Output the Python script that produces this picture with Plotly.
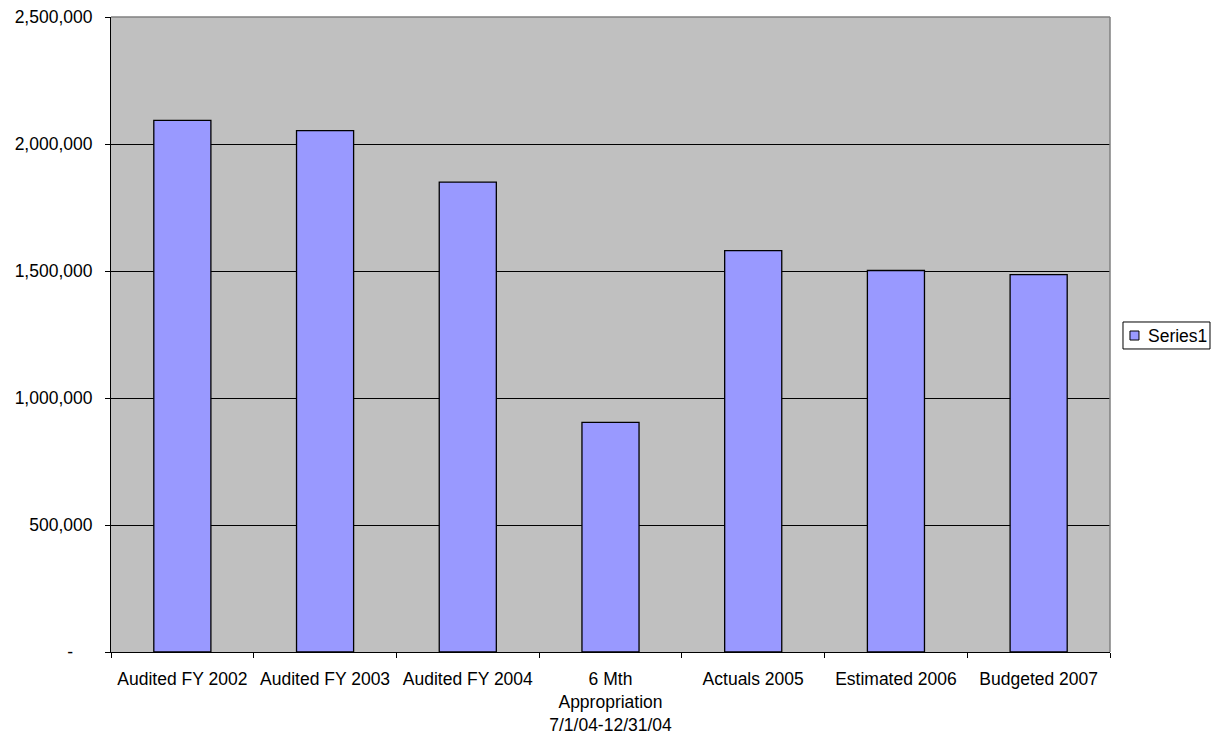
import plotly.graph_objects as go

categories = [
    "Audited FY 2002",
    "Audited FY 2003",
    "Audited FY 2004",
    "6 Mth<br>Appropriation<br>7/1/04-12/31/04",
    "Actuals 2005",
    "Estimated 2006",
    "Budgeted 2007",
]
values = [2093000, 2053000, 1850000, 904000, 1580000, 1502000, 1486000]

y_tickvals = [0, 500000, 1000000, 1500000, 2000000, 2500000]
y_ticktext = ["-" + "\u00a0" * 4, "500,000", "1,000,000", "1,500,000", "2,000,000", "2,500,000"]

series_name = "Series1"
bar_color = "#9999FF"

FONT = "Liberation Sans, Arial, sans-serif"

fig = go.Figure()
fig.add_trace(go.Bar(
    x=categories,
    y=values,
    name=series_name,
    showlegend=False,
    marker=dict(color=bar_color, line=dict(color="#000000", width=1.3)),
))

fig.update_layout(
    width=1217,
    height=734,
    margin=dict(l=111, r=107, t=17, b=82, autoexpand=False),
    paper_bgcolor="#FFFFFF",
    plot_bgcolor="#C0C0C0",
    font=dict(family=FONT, size=17.5, color="#000000"),
    bargap=0.6,
    xaxis=dict(
        type="category",
        range=[-0.5, 6.5],
        automargin=False,
        showgrid=False,
        showline=True, linecolor="#000000", linewidth=1,
        ticks="outside", ticklen=5, tickcolor="#000000",
        tickson="boundaries",
        tickangle=0,
        ticklabelstandoff=11,
        fixedrange=True,
    ),
    yaxis=dict(
        range=[0, 2500000],
        automargin=False,
        tickvals=y_tickvals,
        ticktext=y_ticktext,
        showgrid=True, gridcolor="#000000", gridwidth=1,
        zeroline=False,
        showline=True, linecolor="#000000", linewidth=1,
        ticks="outside", ticklen=5, tickcolor="#000000",
        ticklabelstandoff=9,
        fixedrange=True,
    ),
)

# grey frame on the top and right edges of the plot area
fig.add_shape(type="line", xref="x domain", yref="y domain",
              x0=0, x1=1, y0=1, y1=1, line=dict(color="#808080", width=1.5), layer="above")
fig.add_shape(type="line", xref="x domain", yref="y domain",
              x0=1, x1=1, y0=0, y1=1, line=dict(color="#808080", width=1.5), layer="above")

# legend: framed box, colour swatch and series name
fig.add_shape(type="rect", xref="paper", yref="paper",
              x0=1.0130, x1=1.1001, y0=0.4772, y1=0.5197,
              fillcolor="#FFFFFF", line=dict(color="#000000", width=1), layer="above")
fig.add_shape(type="rect", xref="paper", yref="paper",
              x0=1.0200, x1=1.0290, y0=0.4913, y1=0.5055,
              fillcolor=bar_color, line=dict(color="#000000", width=1), layer="above")
fig.add_annotation(
    xref="paper", yref="paper", x=1.0360, y=0.498,
    xanchor="left", yanchor="middle",
    text=series_name, showarrow=False,
    font=dict(family=FONT, size=17.5, color="#000000"),
)

fig.write_html("out.html")
